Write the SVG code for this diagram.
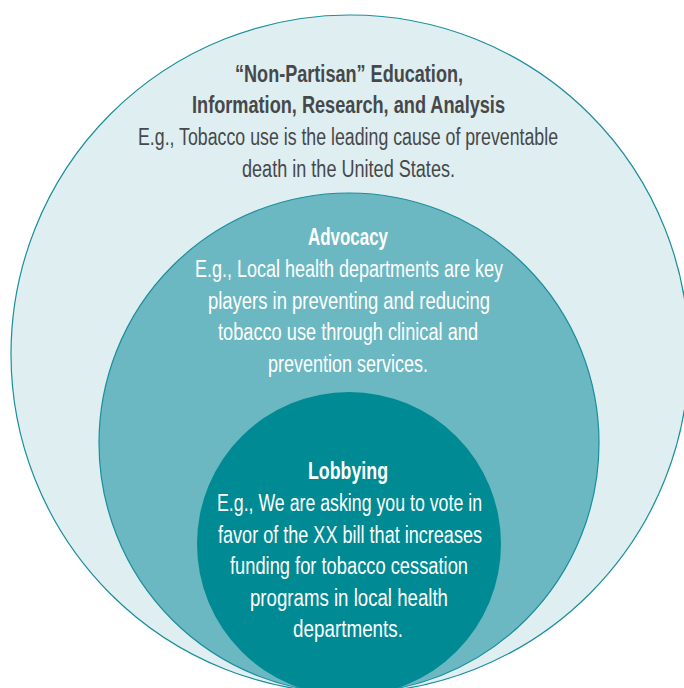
<svg xmlns="http://www.w3.org/2000/svg" width="684" height="688" viewBox="0 0 684 688">
<style>
.t{font-family:"Liberation Sans",Arial,sans-serif;font-size:23.5px;text-anchor:middle}
.b{font-weight:bold}
.dk{fill:#46484a}
.wh{fill:#ffffff}
.c{stroke:#1a8f9b;stroke-width:1.2}
</style>
<rect width="684" height="688" fill="#ffffff"/>
<g id="outer">
<circle class="c" cx="350" cy="354" r="339" fill="#dfeef1"/>
<text class="t b dk" x="349" y="82" textLength="228" lengthAdjust="spacingAndGlyphs">“Non-Partisan” Education,</text>
<text class="t b dk" x="348.5" y="113" textLength="313" lengthAdjust="spacingAndGlyphs">Information, Research, and Analysis</text>
<text class="t dk" x="348" y="145" textLength="420" lengthAdjust="spacingAndGlyphs">E.g., Tobacco use is the leading cause of preventable</text>
<text class="t dk" x="348.5" y="177" textLength="213" lengthAdjust="spacingAndGlyphs">death in the United States.</text>
</g>
<g id="advocacy">
<circle class="c" cx="349" cy="443" r="250" fill="#6bb8c2"/>
<text class="t b wh" x="348" y="245" textLength="80" lengthAdjust="spacingAndGlyphs">Advocacy</text>
<text class="t wh" x="349" y="277" textLength="308" lengthAdjust="spacingAndGlyphs">E.g., Local health departments are key</text>
<text class="t wh" x="349" y="309" textLength="282" lengthAdjust="spacingAndGlyphs">players in preventing and reducing</text>
<text class="t wh" x="348" y="340" textLength="260" lengthAdjust="spacingAndGlyphs">tobacco use through clinical and</text>
<text class="t wh" x="348" y="372" textLength="160" lengthAdjust="spacingAndGlyphs">prevention services.</text>
</g>
<g id="lobbying">
<circle cx="349" cy="544" r="152" fill="#008a94"/>
<text class="t b wh" x="348" y="479" textLength="80" lengthAdjust="spacingAndGlyphs">Lobbying</text>
<text class="t wh" x="349.5" y="511" textLength="265" lengthAdjust="spacingAndGlyphs">E.g., We are asking you to vote in</text>
<text class="t wh" x="350" y="543" textLength="264" lengthAdjust="spacingAndGlyphs">favor of the XX bill that increases</text>
<text class="t wh" x="349" y="574" textLength="238" lengthAdjust="spacingAndGlyphs">funding for tobacco cessation</text>
<text class="t wh" x="349" y="606" textLength="198" lengthAdjust="spacingAndGlyphs">programs in local health</text>
<text class="t wh" x="348" y="637" textLength="110" lengthAdjust="spacingAndGlyphs">departments.</text>
</g>
<g id="connectors"/>
</svg>
